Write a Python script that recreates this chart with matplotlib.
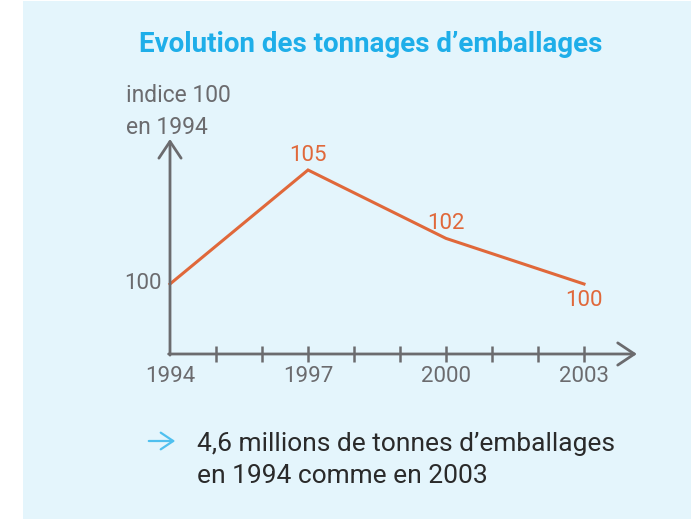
import matplotlib.pyplot as plt
from matplotlib.patches import Rectangle, FancyArrowPatch

# data
years = [1994, 1997, 2000, 2003]
index_values = [100, 105, 102, 100]
minor_years = list(range(1995, 2004))
tick_years = [1994, 1997, 2000, 2003]

title = "Evolution des tonnages d\u2019emballages"
ylabel = "indice 100\nen 1994"
note = "4,6 millions de tonnes d\u2019emballages\nen 1994 comme en 2003"

gray = "#6b6b6e"
orange = "#e0683a"
blue = "#1eaee9"
bg = "#e4f5fc"

plt.rcParams['font.family'] = ['Roboto', 'DejaVu Sans']

fig = plt.figure(figsize=(6.91, 5.19), dpi=100)
fig.patches.append(Rectangle((23 / 691, 0), 1, 1 - 1 / 519, transform=fig.transFigure,
                             facecolor=bg, edgecolor='none', zorder=-10))

ax = fig.add_axes([147 / 691, 1 - 375.2 / 519, 506 / 691, 250.8 / 519])
ax.set_xlim(1993.5, 2004.5)
ax.set_ylim(96, 107)
ax.axis('off')

y0 = 96.93
# axes with open arrow heads
arrow = dict(arrowstyle='->,head_length=1.2,head_width=0.8', color=gray, lw=2,
             shrinkA=0, shrinkB=0)
ax.annotate('', xy=(1994, 106.36), xytext=(1994, y0 - 0.05), arrowprops=arrow)
ax.annotate('', xy=(2004.15, y0), xytext=(1994 - 0.03, y0), arrowprops=arrow)
ax.plot(minor_years, [y0] * len(minor_years), linestyle='none', marker='|',
        markersize=11, markeredgewidth=1.8, color=gray)

for yr in tick_years:
    ax.annotate(str(yr), (yr, y0), xytext=(0, -9), textcoords='offset points',
                ha='center', va='top', fontsize=16, color=gray)

ax.plot(years, index_values, color=orange, lw=2.2, solid_joinstyle='miter')

# value labels
ax.annotate('100', (1994, 100), xytext=(-6, 0), textcoords='offset points',
            ha='right', va='center', fontsize=16, color=gray)
ax.annotate('105', (1997, 105), xytext=(0, 3), textcoords='offset points',
            ha='center', va='bottom', fontsize=16, color=orange)
ax.annotate('102', (2000, 102), xytext=(0, 3), textcoords='offset points',
            ha='center', va='bottom', fontsize=16, color=orange)
ax.annotate('100', (2003, 100), xytext=(0, -4), textcoords='offset points',
            ha='center', va='top', fontsize=16, color=orange)

fig.text(371 / 691, 1 - 44 / 519, title, ha='center', va='center',
         fontsize=20, fontweight='bold', color=blue)
fig.text(126 / 691, 1 - 111 / 519, ylabel, ha='left', va='center',
         fontsize=16.5, color=gray, linespacing=1.5)
fig.patches.append(FancyArrowPatch(
    (146 / 691, 1 - 441 / 519), (178 / 691, 1 - 441 / 519), transform=fig.transFigure,
    arrowstyle='->,head_length=0.45,head_width=0.3', color='#4fc0ef', lw=1.6,
    mutation_scale=20))
fig.text(197 / 691, 1 - 460 / 519, note, ha='left', va='center',
         fontsize=19, color='#2a2a2a', linespacing=1.45)

fig.savefig('out.png', dpi=100)
